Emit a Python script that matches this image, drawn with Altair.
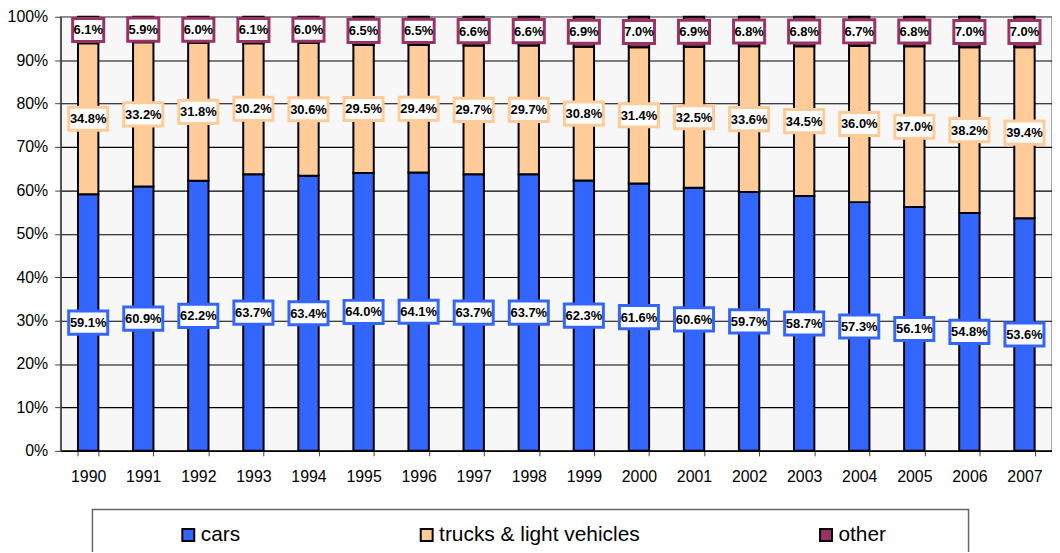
import altair as alt
import pandas as pd

years = [str(y) for y in range(1990, 2008)]
cars = [59.1, 60.9, 62.2, 63.7, 63.4, 64.0, 64.1, 63.7, 63.7, 62.3, 61.6, 60.6, 59.7, 58.7, 57.3, 56.1, 54.8, 53.6]
trucks = [34.8, 33.2, 31.8, 30.2, 30.6, 29.5, 29.4, 29.7, 29.7, 30.8, 31.4, 32.5, 33.6, 34.5, 36.0, 37.0, 38.2, 39.4]
other = [6.1, 5.9, 6.0, 6.1, 6.0, 6.5, 6.5, 6.6, 6.6, 6.9, 7.0, 6.9, 6.8, 6.8, 6.7, 6.8, 7.0, 7.0]
series = ["cars", "trucks & light vehicles", "other"]
colors = ["#3366FF", "#FFCC99", "#993366"]
y_ticks = [0, 0.1, 0.2, 0.3, 0.4, 0.5, 0.6, 0.7, 0.8, 0.9, 1.0]

rows = []
for i, yr in enumerate(years):
    for k, (name, vals) in enumerate(zip(series, [cars, trucks, other])):
        rows.append({"year": yr, "series": name, "value": vals[i], "ord": k,
                     "label": f"{vals[i]:.1f}%"})
df = pd.DataFrame(rows)

W, H = 998, 437
FONT = "Liberation Sans"

x_enc = alt.X("year:N", title=None, sort=years,
              scale=alt.Scale(paddingInner=0.63, paddingOuter=0.315),
              axis=alt.Axis(labelAngle=0, tickBand="extent", tickSize=5,
                            tickColor="#404040", domainColor="black", domainWidth=1.5,
                            labelFont=FONT, labelFontSize=16, labelColor="black",
                            labelPadding=13, grid=False))

y_scale = alt.Scale(domain=[0, 1], nice=False)

bars = alt.Chart(df).mark_bar(stroke="black", strokeWidth=2).encode(
    x=x_enc,
    y=alt.Y("value:Q", stack="normalize", scale=y_scale, title=None,
            axis=alt.Axis(values=y_ticks, format=".0%", labelFont=FONT,
                          labelFontSize=16, labelColor="black", tickSize=6,
                          tickColor="#404040", domainColor="#404040", domainWidth=1.5,
                          labelPadding=7,
                          gridColor={"condition": {"test": "datum.value >= 1", "value": "#8a8a8a"},
                                     "value": "black"},
                          gridWidth=1.1)),
    color=alt.Color("series:N", scale=alt.Scale(domain=series, range=colors),
                    legend=alt.Legend(orient="none", legendX=118, legendY=511,
                                      direction="horizontal", title=None,
                                      symbolType="square", symbolSize=144,
                                      symbolStrokeColor="black", symbolStrokeWidth=2,
                                      symbolOpacity=1, labelLimit=400,
                                      labelFont=FONT, labelFontSize=21, labelColor="black",
                                      labelOffset=2, columnPadding=177, padding=0)),
    order=alt.Order("ord:Q"),
)

base_lab = alt.Chart(df).transform_stack(
    stack="value", groupby=["year"], as_=["y0", "y1"], offset="normalize",
    sort=[alt.SortField("ord", order="ascending")]
).transform_calculate(mid="(datum.y0 + datum.y1) / 2")

wide_path = "M-1,-0.593L1,-0.593L1,0.593L-1,0.593Z"
narrow_path = "M-1,-0.744L1,-0.744L1,0.744L-1,0.744Z"

stroke_enc = alt.Stroke("ord:N", scale=alt.Scale(domain=[0, 1, 2], range=colors), legend=None)

box_wide = base_lab.transform_filter("datum.ord < 2").mark_point(
    shape=wide_path, size=1544, fill="white", fillOpacity=1, opacity=1, strokeWidth=3
).encode(x=alt.X("year:N", sort=years), y=alt.Y("mid:Q", scale=y_scale), stroke=stroke_enc)

box_narrow = base_lab.transform_filter("datum.ord == 2").mark_point(
    shape=narrow_path, size=980, fill="white", fillOpacity=1, opacity=1, strokeWidth=3
).encode(x=alt.X("year:N", sort=years), y=alt.Y("mid:Q", scale=y_scale), stroke=stroke_enc)

texts = base_lab.mark_text(font=FONT, fontSize=13, fontWeight="bold", color="black",
                           baseline="middle", align="center", dy=0.5).encode(
    x=alt.X("year:N", sort=years), y=alt.Y("mid:Q", scale=y_scale), text="label:N")

frame = alt.Chart(alt.Data(values=[{"f": 1}])).mark_rect(
    fill="white", fillOpacity=0, stroke="#666666", strokeWidth=1.5
).encode(x=alt.value(32), x2=alt.value(914), y=alt.value(496), y2=alt.value(580))

chart = alt.layer(bars, box_wide, box_narrow, texts, frame).properties(
    width=W, height=H, autosize="none",
    padding={"left": 53, "top": 7, "right": 0, "bottom": 100},
).configure_view(stroke="#8a8a8a", strokeWidth=1.5, fill="#F7F7F7")

chart.save("out.html", embed_options={"renderer": "svg", "actions": False})
